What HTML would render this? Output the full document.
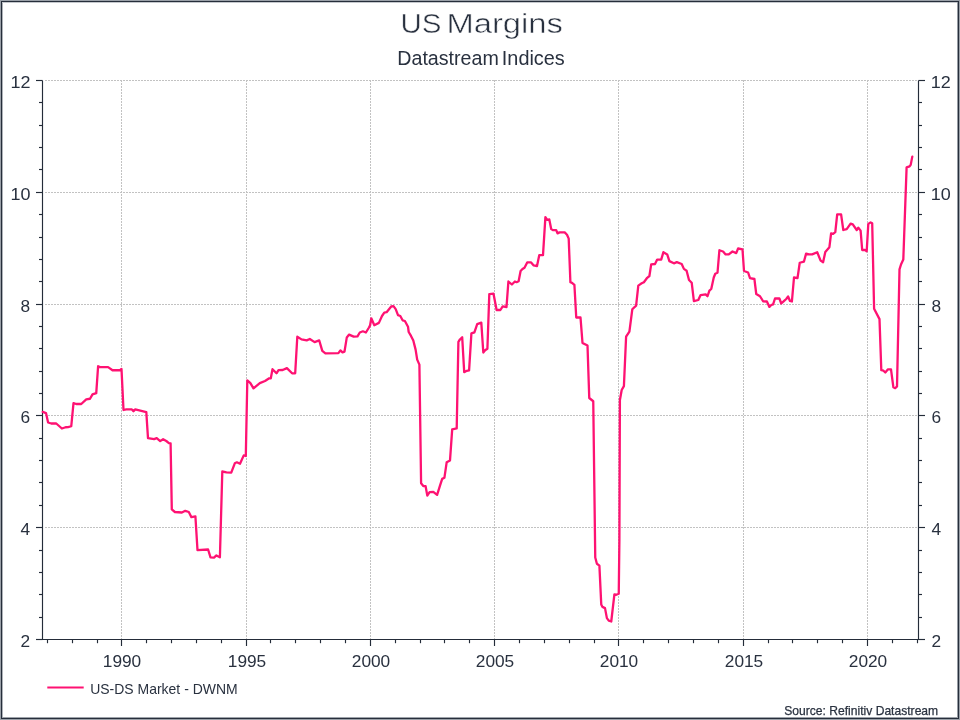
<!DOCTYPE html>
<html><head><meta charset="utf-8"><style>
html,body{margin:0;padding:0;background:#fff;}
body{width:960px;height:720px;overflow:hidden;position:relative;}
svg{position:absolute;left:0;top:0;display:block;will-change:transform;}
text{font-family:"Liberation Sans", sans-serif;fill:#29313f;}
.t{font-size:17.3px;}
.lg{font-size:14.6px;}
.src{font-size:12.4px;stroke:#29313f;stroke-width:0.25px;}
.ti{font-size:28.2px;}
.st{font-size:19.3px;}
</style></head><body>
<svg width="960" height="720" viewBox="0 0 960 720">
<rect x="0" y="0" width="960" height="720" fill="#fff"/>
<line x1="45" y1="527.5" x2="918.0" y2="527.5" stroke="#c2c2c2" stroke-width="1" stroke-dasharray="2 1"/>
<line x1="45" y1="415.5" x2="918.0" y2="415.5" stroke="#c2c2c2" stroke-width="1" stroke-dasharray="2 1"/>
<line x1="45" y1="304.5" x2="918.0" y2="304.5" stroke="#c2c2c2" stroke-width="1" stroke-dasharray="2 1"/>
<line x1="45" y1="192.5" x2="918.0" y2="192.5" stroke="#c2c2c2" stroke-width="1" stroke-dasharray="2 1"/>
<line x1="45" y1="80.5" x2="918.0" y2="80.5" stroke="#c2c2c2" stroke-width="1" stroke-dasharray="2 1"/>
<line x1="121.5" y1="80" x2="121.5" y2="639" stroke="#c2c2c2" stroke-width="1" stroke-dasharray="2 1"/>
<line x1="246.5" y1="80" x2="246.5" y2="639" stroke="#c2c2c2" stroke-width="1" stroke-dasharray="2 1"/>
<line x1="370.5" y1="80" x2="370.5" y2="639" stroke="#c2c2c2" stroke-width="1" stroke-dasharray="2 1"/>
<line x1="494.5" y1="80" x2="494.5" y2="639" stroke="#c2c2c2" stroke-width="1" stroke-dasharray="2 1"/>
<line x1="618.5" y1="80" x2="618.5" y2="639" stroke="#c2c2c2" stroke-width="1" stroke-dasharray="2 1"/>
<line x1="743.5" y1="80" x2="743.5" y2="639" stroke="#c2c2c2" stroke-width="1" stroke-dasharray="2 1"/>
<line x1="867.5" y1="80" x2="867.5" y2="639" stroke="#c2c2c2" stroke-width="1" stroke-dasharray="2 1"/>
<line x1="42.5" y1="80.5" x2="42.5" y2="639.5" stroke="#242c39" stroke-width="1.15"/>
<line x1="918.5" y1="80.5" x2="918.5" y2="639.5" stroke="#242c39" stroke-width="1.15"/>
<line x1="36" y1="639.5" x2="925" y2="639.5" stroke="#242c39" stroke-width="1.15"/>
<line x1="36.0" y1="80.5" x2="42.5" y2="80.5" stroke="#242c39" stroke-width="1.15"/>
<line x1="918.5" y1="80.5" x2="925.0" y2="80.5" stroke="#242c39" stroke-width="1.15"/>
<line x1="39.0" y1="102.5" x2="42.5" y2="102.5" stroke="#242c39" stroke-width="1.15"/>
<line x1="918.5" y1="102.5" x2="922.0" y2="102.5" stroke="#242c39" stroke-width="1.15"/>
<line x1="39.0" y1="125.5" x2="42.5" y2="125.5" stroke="#242c39" stroke-width="1.15"/>
<line x1="918.5" y1="125.5" x2="922.0" y2="125.5" stroke="#242c39" stroke-width="1.15"/>
<line x1="39.0" y1="147.5" x2="42.5" y2="147.5" stroke="#242c39" stroke-width="1.15"/>
<line x1="918.5" y1="147.5" x2="922.0" y2="147.5" stroke="#242c39" stroke-width="1.15"/>
<line x1="39.0" y1="169.5" x2="42.5" y2="169.5" stroke="#242c39" stroke-width="1.15"/>
<line x1="918.5" y1="169.5" x2="922.0" y2="169.5" stroke="#242c39" stroke-width="1.15"/>
<line x1="36.0" y1="192.5" x2="42.5" y2="192.5" stroke="#242c39" stroke-width="1.15"/>
<line x1="918.5" y1="192.5" x2="925.0" y2="192.5" stroke="#242c39" stroke-width="1.15"/>
<line x1="39.0" y1="214.5" x2="42.5" y2="214.5" stroke="#242c39" stroke-width="1.15"/>
<line x1="918.5" y1="214.5" x2="922.0" y2="214.5" stroke="#242c39" stroke-width="1.15"/>
<line x1="39.0" y1="237.5" x2="42.5" y2="237.5" stroke="#242c39" stroke-width="1.15"/>
<line x1="918.5" y1="237.5" x2="922.0" y2="237.5" stroke="#242c39" stroke-width="1.15"/>
<line x1="39.0" y1="259.5" x2="42.5" y2="259.5" stroke="#242c39" stroke-width="1.15"/>
<line x1="918.5" y1="259.5" x2="922.0" y2="259.5" stroke="#242c39" stroke-width="1.15"/>
<line x1="39.0" y1="281.5" x2="42.5" y2="281.5" stroke="#242c39" stroke-width="1.15"/>
<line x1="918.5" y1="281.5" x2="922.0" y2="281.5" stroke="#242c39" stroke-width="1.15"/>
<line x1="36.0" y1="304.5" x2="42.5" y2="304.5" stroke="#242c39" stroke-width="1.15"/>
<line x1="918.5" y1="304.5" x2="925.0" y2="304.5" stroke="#242c39" stroke-width="1.15"/>
<line x1="39.0" y1="326.5" x2="42.5" y2="326.5" stroke="#242c39" stroke-width="1.15"/>
<line x1="918.5" y1="326.5" x2="922.0" y2="326.5" stroke="#242c39" stroke-width="1.15"/>
<line x1="39.0" y1="348.5" x2="42.5" y2="348.5" stroke="#242c39" stroke-width="1.15"/>
<line x1="918.5" y1="348.5" x2="922.0" y2="348.5" stroke="#242c39" stroke-width="1.15"/>
<line x1="39.0" y1="371.5" x2="42.5" y2="371.5" stroke="#242c39" stroke-width="1.15"/>
<line x1="918.5" y1="371.5" x2="922.0" y2="371.5" stroke="#242c39" stroke-width="1.15"/>
<line x1="39.0" y1="393.5" x2="42.5" y2="393.5" stroke="#242c39" stroke-width="1.15"/>
<line x1="918.5" y1="393.5" x2="922.0" y2="393.5" stroke="#242c39" stroke-width="1.15"/>
<line x1="36.0" y1="415.5" x2="42.5" y2="415.5" stroke="#242c39" stroke-width="1.15"/>
<line x1="918.5" y1="415.5" x2="925.0" y2="415.5" stroke="#242c39" stroke-width="1.15"/>
<line x1="39.0" y1="438.5" x2="42.5" y2="438.5" stroke="#242c39" stroke-width="1.15"/>
<line x1="918.5" y1="438.5" x2="922.0" y2="438.5" stroke="#242c39" stroke-width="1.15"/>
<line x1="39.0" y1="460.5" x2="42.5" y2="460.5" stroke="#242c39" stroke-width="1.15"/>
<line x1="918.5" y1="460.5" x2="922.0" y2="460.5" stroke="#242c39" stroke-width="1.15"/>
<line x1="39.0" y1="482.5" x2="42.5" y2="482.5" stroke="#242c39" stroke-width="1.15"/>
<line x1="918.5" y1="482.5" x2="922.0" y2="482.5" stroke="#242c39" stroke-width="1.15"/>
<line x1="39.0" y1="505.5" x2="42.5" y2="505.5" stroke="#242c39" stroke-width="1.15"/>
<line x1="918.5" y1="505.5" x2="922.0" y2="505.5" stroke="#242c39" stroke-width="1.15"/>
<line x1="36.0" y1="527.5" x2="42.5" y2="527.5" stroke="#242c39" stroke-width="1.15"/>
<line x1="918.5" y1="527.5" x2="925.0" y2="527.5" stroke="#242c39" stroke-width="1.15"/>
<line x1="39.0" y1="550.5" x2="42.5" y2="550.5" stroke="#242c39" stroke-width="1.15"/>
<line x1="918.5" y1="550.5" x2="922.0" y2="550.5" stroke="#242c39" stroke-width="1.15"/>
<line x1="39.0" y1="572.5" x2="42.5" y2="572.5" stroke="#242c39" stroke-width="1.15"/>
<line x1="918.5" y1="572.5" x2="922.0" y2="572.5" stroke="#242c39" stroke-width="1.15"/>
<line x1="39.0" y1="594.5" x2="42.5" y2="594.5" stroke="#242c39" stroke-width="1.15"/>
<line x1="918.5" y1="594.5" x2="922.0" y2="594.5" stroke="#242c39" stroke-width="1.15"/>
<line x1="39.0" y1="617.5" x2="42.5" y2="617.5" stroke="#242c39" stroke-width="1.15"/>
<line x1="918.5" y1="617.5" x2="922.0" y2="617.5" stroke="#242c39" stroke-width="1.15"/>
<line x1="36.0" y1="639.5" x2="42.5" y2="639.5" stroke="#242c39" stroke-width="1.15"/>
<line x1="918.5" y1="639.5" x2="925.0" y2="639.5" stroke="#242c39" stroke-width="1.15"/>
<line x1="47.5" y1="639.5" x2="47.5" y2="643.2" stroke="#242c39" stroke-width="1.15"/>
<line x1="72.5" y1="639.5" x2="72.5" y2="643.2" stroke="#242c39" stroke-width="1.15"/>
<line x1="97.5" y1="639.5" x2="97.5" y2="643.2" stroke="#242c39" stroke-width="1.15"/>
<line x1="121.5" y1="639.5" x2="121.5" y2="646.0" stroke="#242c39" stroke-width="1.15"/>
<line x1="146.5" y1="639.5" x2="146.5" y2="643.2" stroke="#242c39" stroke-width="1.15"/>
<line x1="171.5" y1="639.5" x2="171.5" y2="643.2" stroke="#242c39" stroke-width="1.15"/>
<line x1="196.5" y1="639.5" x2="196.5" y2="643.2" stroke="#242c39" stroke-width="1.15"/>
<line x1="221.5" y1="639.5" x2="221.5" y2="643.2" stroke="#242c39" stroke-width="1.15"/>
<line x1="246.5" y1="639.5" x2="246.5" y2="646.0" stroke="#242c39" stroke-width="1.15"/>
<line x1="270.5" y1="639.5" x2="270.5" y2="643.2" stroke="#242c39" stroke-width="1.15"/>
<line x1="295.5" y1="639.5" x2="295.5" y2="643.2" stroke="#242c39" stroke-width="1.15"/>
<line x1="320.5" y1="639.5" x2="320.5" y2="643.2" stroke="#242c39" stroke-width="1.15"/>
<line x1="345.5" y1="639.5" x2="345.5" y2="643.2" stroke="#242c39" stroke-width="1.15"/>
<line x1="370.5" y1="639.5" x2="370.5" y2="646.0" stroke="#242c39" stroke-width="1.15"/>
<line x1="395.5" y1="639.5" x2="395.5" y2="643.2" stroke="#242c39" stroke-width="1.15"/>
<line x1="420.5" y1="639.5" x2="420.5" y2="643.2" stroke="#242c39" stroke-width="1.15"/>
<line x1="444.5" y1="639.5" x2="444.5" y2="643.2" stroke="#242c39" stroke-width="1.15"/>
<line x1="469.5" y1="639.5" x2="469.5" y2="643.2" stroke="#242c39" stroke-width="1.15"/>
<line x1="494.5" y1="639.5" x2="494.5" y2="646.0" stroke="#242c39" stroke-width="1.15"/>
<line x1="519.5" y1="639.5" x2="519.5" y2="643.2" stroke="#242c39" stroke-width="1.15"/>
<line x1="544.5" y1="639.5" x2="544.5" y2="643.2" stroke="#242c39" stroke-width="1.15"/>
<line x1="569.5" y1="639.5" x2="569.5" y2="643.2" stroke="#242c39" stroke-width="1.15"/>
<line x1="594.5" y1="639.5" x2="594.5" y2="643.2" stroke="#242c39" stroke-width="1.15"/>
<line x1="618.5" y1="639.5" x2="618.5" y2="646.0" stroke="#242c39" stroke-width="1.15"/>
<line x1="643.5" y1="639.5" x2="643.5" y2="643.2" stroke="#242c39" stroke-width="1.15"/>
<line x1="668.5" y1="639.5" x2="668.5" y2="643.2" stroke="#242c39" stroke-width="1.15"/>
<line x1="693.5" y1="639.5" x2="693.5" y2="643.2" stroke="#242c39" stroke-width="1.15"/>
<line x1="718.5" y1="639.5" x2="718.5" y2="643.2" stroke="#242c39" stroke-width="1.15"/>
<line x1="743.5" y1="639.5" x2="743.5" y2="646.0" stroke="#242c39" stroke-width="1.15"/>
<line x1="768.5" y1="639.5" x2="768.5" y2="643.2" stroke="#242c39" stroke-width="1.15"/>
<line x1="792.5" y1="639.5" x2="792.5" y2="643.2" stroke="#242c39" stroke-width="1.15"/>
<line x1="817.5" y1="639.5" x2="817.5" y2="643.2" stroke="#242c39" stroke-width="1.15"/>
<line x1="842.5" y1="639.5" x2="842.5" y2="643.2" stroke="#242c39" stroke-width="1.15"/>
<line x1="867.5" y1="639.5" x2="867.5" y2="646.0" stroke="#242c39" stroke-width="1.15"/>
<line x1="892.5" y1="639.5" x2="892.5" y2="643.2" stroke="#242c39" stroke-width="1.15"/>
<line x1="917.5" y1="639.5" x2="917.5" y2="643.2" stroke="#242c39" stroke-width="1.15"/>
<text x="30.1" y="647.10" text-anchor="end" class="t">2</text>
<text x="931.5" y="647.10" class="t">2</text>
<text x="30.1" y="535.10" text-anchor="end" class="t">4</text>
<text x="931.5" y="535.10" class="t">4</text>
<text x="30.1" y="423.10" text-anchor="end" class="t">6</text>
<text x="931.5" y="423.10" class="t">6</text>
<text x="30.1" y="312.10" text-anchor="end" class="t">8</text>
<text x="931.5" y="312.10" class="t">8</text>
<text x="30.4" y="200.10" text-anchor="end" class="t" textLength="20" lengthAdjust="spacingAndGlyphs">10</text>
<text x="930.8" y="200.10" class="t" textLength="20" lengthAdjust="spacingAndGlyphs">10</text>
<text x="30.4" y="88.10" text-anchor="end" class="t" textLength="20" lengthAdjust="spacingAndGlyphs">12</text>
<text x="930.8" y="88.10" class="t" textLength="20" lengthAdjust="spacingAndGlyphs">12</text>
<text x="122.00" y="667.1" text-anchor="middle" class="t">1990</text>
<text x="247.00" y="667.1" text-anchor="middle" class="t">1995</text>
<text x="371.00" y="667.1" text-anchor="middle" class="t">2000</text>
<text x="495.00" y="667.1" text-anchor="middle" class="t">2005</text>
<text x="619.00" y="667.1" text-anchor="middle" class="t">2010</text>
<text x="744.00" y="667.1" text-anchor="middle" class="t">2015</text>
<text x="868.00" y="667.1" text-anchor="middle" class="t">2020</text>
<polyline points="42.75,411.90 46.00,413.10 48.10,422.50 51.25,423.50 56.25,423.50 61.90,428.50 65.60,427.25 68.10,427.10 71.25,426.25 73.50,403.10 76.25,404.00 81.25,404.00 86.25,399.40 90.00,398.75 92.50,394.40 96.25,393.10 98.10,366.25 100.00,367.10 108.10,367.10 112.50,370.25 120.00,370.25 121.50,369.00 123.50,410.00 126.25,409.40 131.90,409.40 133.50,411.25 135.25,409.40 139.30,410.40 146.30,412.20 148.00,438.20 154.10,439.10 156.70,438.20 160.20,441.10 163.10,439.20 166.30,441.00 168.90,443.10 170.60,443.40 171.80,509.40 174.90,512.00 181.90,512.50 185.30,510.80 188.80,512.00 191.40,517.20 195.40,516.30 197.50,550.20 208.10,549.50 210.50,557.30 214.00,557.70 216.40,555.40 219.90,557.30 222.30,471.50 226.50,472.30 231.25,472.70 234.80,463.30 236.90,462.30 240.00,463.75 243.75,455.40 245.80,456.00 247.30,380.40 250.40,383.10 253.50,388.30 259.80,383.10 265.00,381.00 269.20,378.30 270.80,378.30 272.50,369.20 276.50,373.30 278.50,370.20 282.70,370.00 286.90,368.10 292.10,373.30 295.20,373.30 297.30,336.70 301.50,339.40 306.70,340.40 309.80,339.00 314.60,342.10 319.20,340.40 322.30,350.80 325.40,353.30 338.40,353.10 340.40,350.40 342.50,352.40 344.50,351.60 346.80,337.40 349.10,334.60 353.70,336.60 357.50,336.30 359.80,332.50 362.90,331.30 365.90,332.50 369.00,327.50 370.10,325.20 371.30,318.30 374.30,325.20 378.90,322.90 382.00,316.00 384.30,312.60 386.60,312.20 391.20,306.50 393.50,306.10 395.70,309.10 398.00,315.20 400.30,316.00 402.60,320.30 404.90,321.00 408.00,326.70 408.70,332.00 411.00,335.90 413.30,340.50 415.60,349.60 417.20,359.60 419.40,364.60 421.10,483.30 423.30,486.00 425.60,486.20 427.30,495.60 429.60,492.20 433.30,491.80 437.10,494.90 440.00,485.60 442.20,478.90 444.40,477.80 446.70,462.20 450.00,460.40 452.20,429.30 456.70,428.40 458.40,341.80 459.90,339.50 462.20,337.20 464.20,372.10 466.80,370.80 469.10,370.40 471.40,333.40 474.40,332.30 477.20,324.20 481.30,322.70 483.30,352.50 485.10,350.20 487.40,348.70 489.30,294.10 493.50,293.70 496.60,310.00 500.40,310.00 502.70,306.40 506.50,307.00 508.40,281.50 511.90,284.50 514.90,281.50 516.60,282.20 518.60,281.30 520.60,271.00 522.50,269.00 524.50,267.70 527.20,262.40 531.10,262.40 533.70,265.40 537.00,266.00 539.30,255.10 543.00,255.10 545.40,217.10 547.20,219.80 549.30,219.50 551.20,229.00 552.90,230.10 556.20,230.10 557.50,233.40 559.50,232.40 564.70,232.40 567.00,234.70 568.70,238.60 570.40,282.20 572.00,282.80 574.40,284.80 576.25,317.50 580.50,317.50 582.50,343.00 587.50,345.50 589.25,398.00 593.25,401.25 595.25,557.50 596.90,563.75 599.40,565.60 601.25,604.40 602.50,606.90 605.00,608.10 606.90,618.10 608.75,620.60 611.25,621.50 614.40,594.40 616.25,594.75 618.75,593.75 619.40,540.00 619.90,400.00 621.70,390.00 623.90,386.20 626.10,336.70 629.40,331.60 632.30,309.30 636.10,305.60 638.30,285.60 641.70,283.30 643.90,282.20 647.20,277.80 649.40,276.00 651.20,264.40 655.00,264.00 657.20,259.60 661.20,259.60 663.40,252.20 667.20,254.40 669.40,261.10 673.90,263.30 676.80,262.20 681.70,264.00 683.90,268.90 686.60,270.70 689.00,280.00 691.70,282.70 693.90,301.10 698.30,300.00 700.60,295.10 705.70,294.40 707.50,296.25 709.40,290.60 711.25,289.00 713.75,277.50 715.25,273.75 717.50,272.75 719.40,250.25 723.10,251.50 725.60,254.40 728.75,254.40 732.50,251.50 736.25,253.10 738.10,248.50 742.50,249.40 744.00,271.00 748.10,272.50 750.00,278.10 754.40,279.00 756.25,294.00 760.00,296.25 763.10,301.25 766.90,301.50 769.40,306.90 771.25,305.00 773.10,304.40 775.00,298.50 779.40,298.50 781.25,303.50 784.40,300.60 786.25,299.00 788.10,296.50 790.00,301.00 791.90,301.50 794.00,277.50 797.50,278.10 799.75,262.75 803.90,261.70 806.10,253.60 808.90,254.40 812.20,254.40 817.20,252.20 820.60,260.60 823.10,262.20 825.30,252.00 829.40,247.20 831.10,233.30 833.10,233.90 835.30,232.20 837.20,214.40 841.10,214.40 843.30,230.00 846.70,229.10 850.60,223.60 852.80,224.40 856.70,230.00 858.30,227.60 860.60,230.60 862.20,250.00 865.00,249.80 866.70,251.30 868.30,223.90 870.60,222.40 872.20,223.30 874.10,308.80 879.50,319.10 881.30,370.20 883.50,370.70 885.30,372.50 888.00,369.30 891.00,369.30 893.40,387.30 895.20,388.20 897.00,386.40 899.50,269.40 901.00,264.50 903.30,259.60 906.60,167.40 909.60,166.30 910.70,164.90 912.30,156.60" fill="none" stroke="#fe1272" stroke-width="2.3" stroke-linejoin="round" stroke-linecap="round"/>
<line x1="47.3" y1="687.5" x2="83.7" y2="687.5" stroke="#fe1272" stroke-width="2.1"/>
<text x="90.2" y="693.9" class="lg" textLength="147.5" lengthAdjust="spacingAndGlyphs">US-DS Market - DWNM</text>
<text x="784.2" y="714.6" class="src" textLength="154" lengthAdjust="spacingAndGlyphs">Source: Refinitiv Datastream</text>
<text x="400.4" y="32.9" class="ti" stroke="#fff" stroke-width="0.5" textLength="41" lengthAdjust="spacingAndGlyphs">US</text>
<text x="446.4" y="32.9" class="ti" stroke="#fff" stroke-width="0.5" textLength="116.5" lengthAdjust="spacingAndGlyphs">Margins</text>
<text x="397.3" y="64.5" class="st" textLength="101.5" lengthAdjust="spacingAndGlyphs">Datastream</text>
<text x="501.8" y="64.5" class="st" textLength="63" lengthAdjust="spacingAndGlyphs">Indices</text>
<rect x="0.5" y="0.5" width="959" height="719" fill="none" stroke="#9aa0a8" stroke-width="1"/>
<rect x="1.5" y="1.5" width="957" height="717" fill="none" stroke="#262e3b" stroke-width="1"/>
<line x1="2" y1="2.5" x2="958" y2="2.5" stroke="#c6c9ce" stroke-width="1"/>
<line x1="2.5" y1="3" x2="2.5" y2="718" stroke="#aeb2b8" stroke-width="1"/>
<line x1="957.5" y1="2" x2="957.5" y2="718" stroke="#959ba3" stroke-width="1"/>
<line x1="2" y1="717.5" x2="958" y2="717.5" stroke="#9ea3aa" stroke-width="1"/>
</svg>
</body></html>
